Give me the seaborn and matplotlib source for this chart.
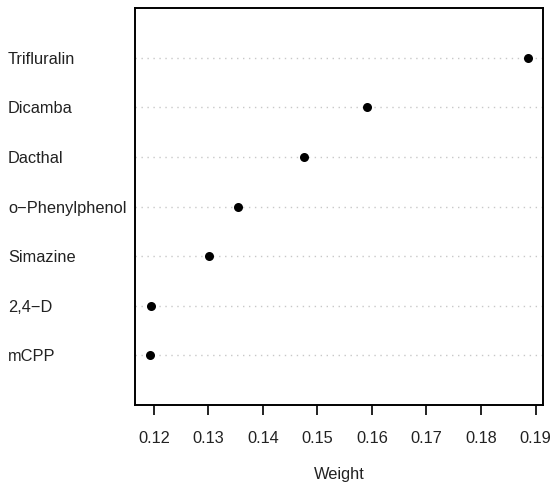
import matplotlib
matplotlib.use("Agg")
import matplotlib.pyplot as plt
import seaborn as sns
import pandas as pd

chemicals = ["Trifluralin", "Dicamba", "Dacthal", "o\u2212Phenylphenol", "Simazine", "2,4\u2212D", "mCPP"]
weights = [0.1886, 0.1591, 0.1476, 0.1355, 0.1301, 0.1195, 0.1193]
xticks = [0.12, 0.13, 0.14, 0.15, 0.16, 0.17, 0.18, 0.19]

sns.set_style("white")
plt.rcParams['font.family'] = ['Liberation Sans', 'DejaVu Sans']

df = pd.DataFrame({"chemical": chemicals, "weight": weights})

fig = plt.figure(figsize=(5.53, 4.87), dpi=100)
ax = fig.add_axes([135/553, 1 - 405/487, (543 - 135)/553, (405 - 8)/487])

for i in range(len(chemicals)):
    ax.axhline(i, color="#c8c8c8", linewidth=1.0, linestyle=(0, (1, 3.3)), zorder=1)

sns.stripplot(data=df, x="weight", y="chemical", order=chemicals, jitter=False,
              color="black", size=6.5, linewidth=0, ax=ax, zorder=3)

lo, hi = min(weights), max(weights)
r = hi - lo
ax.set_xlim(lo - 0.04 * r, hi + 0.04 * r)
ax.set_ylim(len(chemicals), -1)
ax.set_xticks(xticks)
ax.set_xticklabels([f"{t:.2f}" for t in xticks])

ax.set_ylabel("")
ax.set_xlabel("Weight", fontsize=11.8, labelpad=15.5, color="#222222")
ax.tick_params(axis="x", length=7, width=1.4, pad=11.5, labelsize=11.8, colors="#222222", bottom=True)
ax.tick_params(axis="y", length=0, pad=91.4, labelsize=11.8, colors="#222222")
for lbl in ax.get_yticklabels():
    lbl.set_horizontalalignment("left")

for s in ax.spines.values():
    s.set_visible(True)
    s.set_linewidth(1.4)
    s.set_color("black")

fig.savefig("out.png", dpi=100)
